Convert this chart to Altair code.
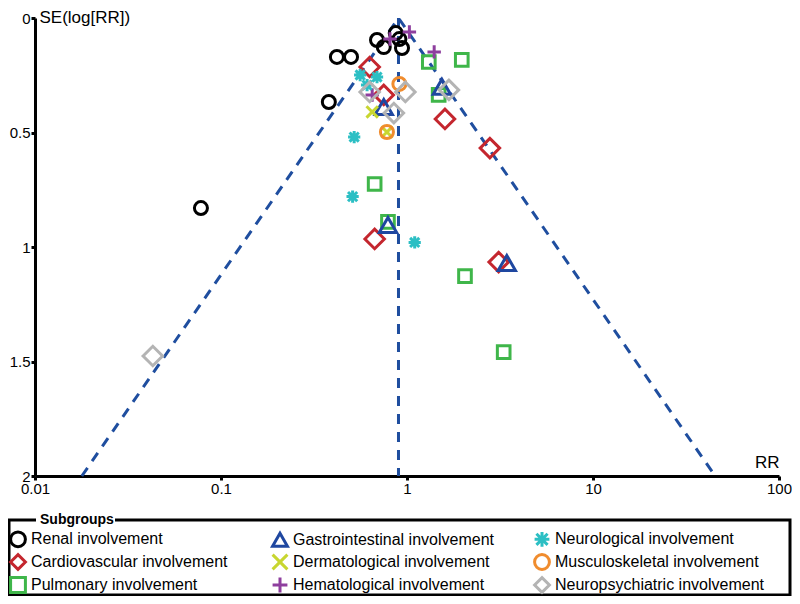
import altair as alt
import pandas as pd
import math

# ---------------- data ----------------
groups = [
    "Renal involvement", "Cardiovascular involvement", "Pulmonary involvement",
    "Gastrointestinal involvement", "Dermatological involvement", "Hematological involvement",
    "Neurological involvement", "Musculoskeletal involvement", "Neuropsychiatric involvement",
]

renal_rr = [0.078, 0.42, 0.50, 0.38, 0.69, 0.75, 0.87, 0.91, 0.94]
renal_se = [0.83, 0.17, 0.17, 0.367, 0.096, 0.127, 0.066, 0.092, 0.131]
cardio_rr = [0.63, 0.75, 1.60, 2.79, 0.67, 3.11]
cardio_se = [0.214, 0.336, 0.441, 0.568, 0.965, 1.066]
pulm_rr = [1.31, 1.97, 1.48, 0.67, 0.79, 2.05, 3.31]
pulm_se = [0.192, 0.183, 0.336, 0.725, 0.89, 1.127, 1.459]
gi_rr = [1.54, 0.75, 0.79, 3.44]
gi_se = [0.30, 0.389, 0.904, 1.07]
derm_rr = [0.65, 0.78]
derm_se = [0.41, 0.498]
hema_rr = [1.03, 0.81, 1.40, 0.65]
hema_se = [0.061, 0.092, 0.148, 0.336]
neuro_rr = [0.56, 0.69, 0.61, 0.52, 0.51, 1.10]
neuro_se = [0.249, 0.258, 0.293, 0.52, 0.78, 0.98]
musc_rr = [0.91, 0.78]
musc_se = [0.288, 0.498]
npsy_rr = [0.63, 0.85, 0.98, 1.68, 0.043]
npsy_se = [0.323, 0.415, 0.323, 0.314, 1.476]

pooled_rr = 0.9
se_max = 2.0
z = 1.96

x_ticks = [0.01, 0.1, 1, 10, 100]
y_ticks = [0, 0.5, 1, 1.5, 2]

series = [
    (renal_rr, renal_se), (cardio_rr, cardio_se), (pulm_rr, pulm_se),
    (gi_rr, gi_se), (derm_rr, derm_se), (hema_rr, hema_se),
    (neuro_rr, neuro_se), (musc_rr, musc_se), (npsy_rr, npsy_se),
]

rows = []
for g, (rr, se) in zip(groups, series):
    for a, b in zip(rr, se):
        rows.append({"group": g, "RR": a, "SE": b})
df = pd.DataFrame(rows)

lo = pooled_rr * math.exp(-z * se_max)
hi = pooled_rr * math.exp(z * se_max)
funnel = pd.DataFrame({"RR": [lo, pooled_rr, hi], "SE": [se_max, 0, se_max], "o": [0, 1, 2]})
center = pd.DataFrame({"RR": [pooled_rr, pooled_rr], "SE": [0, se_max], "o": [0, 1]})

# ---------------- styling ----------------
XPATH = "M-1,-1L1,1M-1,1L1,-1"
PLUS = "M-1,0L1,0M0,-1L0,1"
STAR = "M-1,0L1,0M0,-1L0,1M-0.75,-0.75L0.75,0.75M-0.75,0.75L0.75,-0.75"
color_range = ["#000000", "#c4262e", "#3fb64a", "#1f47a0", "#c8d630",
               "#8e3f9e", "#2cbfc4", "#f08c2e", "#b4b4b4"]
shape_range = ["circle", "diamond", "square", "triangle-up", XPATH,
               PLUS, STAR, "circle", "diamond"]
size_range = [170, 380, 160, 300, 130, 180, 150, 170, 380]

FONT = "Liberation Sans"
BLUE = "#1f4e9f"

xscale = alt.Scale(type="log", domain=[0.01, 100])
yscale = alt.Scale(domain=[0, 2], reverse=True)

x_enc = alt.X("RR:Q", scale=xscale,
              axis=alt.Axis(values=x_ticks, format="~g", title="RR", titleAngle=0,
                            titleAlign="right", titleX=744, titleY=-14, titleBaseline="middle",
                            labelFlush=False))
y_enc = alt.Y("SE:Q", scale=yscale,
              axis=alt.Axis(values=y_ticks, format="~g", title="SE(log[RR])", titleAngle=0,
                            titleAlign="left", titleX=4, titleY=-9, titleBaseline="top"))
color_enc = alt.Color("group:N", scale=alt.Scale(domain=groups, range=color_range),
                      legend=alt.Legend(title=None, orient="none", legendX=-26, legendY=512,
                                        columns=3, gridAlign="all", columnPadding=26,
                                        rowPadding=-11, labelFontSize=16, labelFont=FONT,
                                        labelColor="black", symbolStrokeWidth=3,
                                        symbolSize=220, labelOffset=4, padding=0,
                                        labelLimit=400))
shape_enc = alt.Shape("group:N", scale=alt.Scale(domain=groups, range=shape_range))

point_layers = []
for g, s in zip(groups, size_range):
    point_layers.append(
        alt.Chart(df).transform_filter(alt.datum.group == g)
        .mark_point(filled=False, strokeWidth=3, opacity=1, size=s)
        .encode(x=x_enc, y=y_enc, color=color_enc, shape=shape_enc)
    )

dash = [10, 8]
funnel_line = alt.Chart(funnel).mark_line(color=BLUE, strokeWidth=3, strokeDash=dash).encode(
    x=alt.X("RR:Q", scale=xscale), y=alt.Y("SE:Q", scale=yscale), order="o:Q")
center_line = alt.Chart(center).mark_line(color=BLUE, strokeWidth=3, strokeDash=dash).encode(
    x=alt.X("RR:Q", scale=xscale), y=alt.Y("SE:Q", scale=yscale), order="o:Q")

one = alt.Data(values=[{"k": 1}])
box = alt.Chart(one).mark_rect(fill=None, stroke="black", strokeWidth=3).encode(
    x=alt.value(-26), x2=alt.value(755), y=alt.value(502), y2=alt.value(577))
gap = alt.Chart(one).mark_rect(fill="white", stroke=None).encode(
    x=alt.value(1), x2=alt.value(80), y=alt.value(496), y2=alt.value(508))
title = alt.Chart(one).mark_text(font=FONT, fontSize=14, fontWeight="bold", align="left",
                                 baseline="middle", color="black").encode(
    x=alt.value(5), y=alt.value(502), text=alt.value("Subgroups"))

chart = alt.layer(funnel_line, center_line, *point_layers, box, gap, title).properties(
    width=744, height=458,
    autosize=alt.AutoSizeParams(type="none"),
    padding={"left": 27, "top": 10, "right": 13, "bottom": 120},
).configure_view(strokeWidth=0).configure_axis(
    grid=False, labelFont=FONT, labelFontSize=15, labelColor="black",
    titleFont=FONT, titleFontSize=17, titleFontWeight="normal", titleColor="black",
    domainColor="black", domainWidth=3, tickColor="black", tickWidth=3, tickSize=4,
    labelPadding=1,
)

chart.save("out.html", embed_options={"renderer": "svg", "actions": False})
